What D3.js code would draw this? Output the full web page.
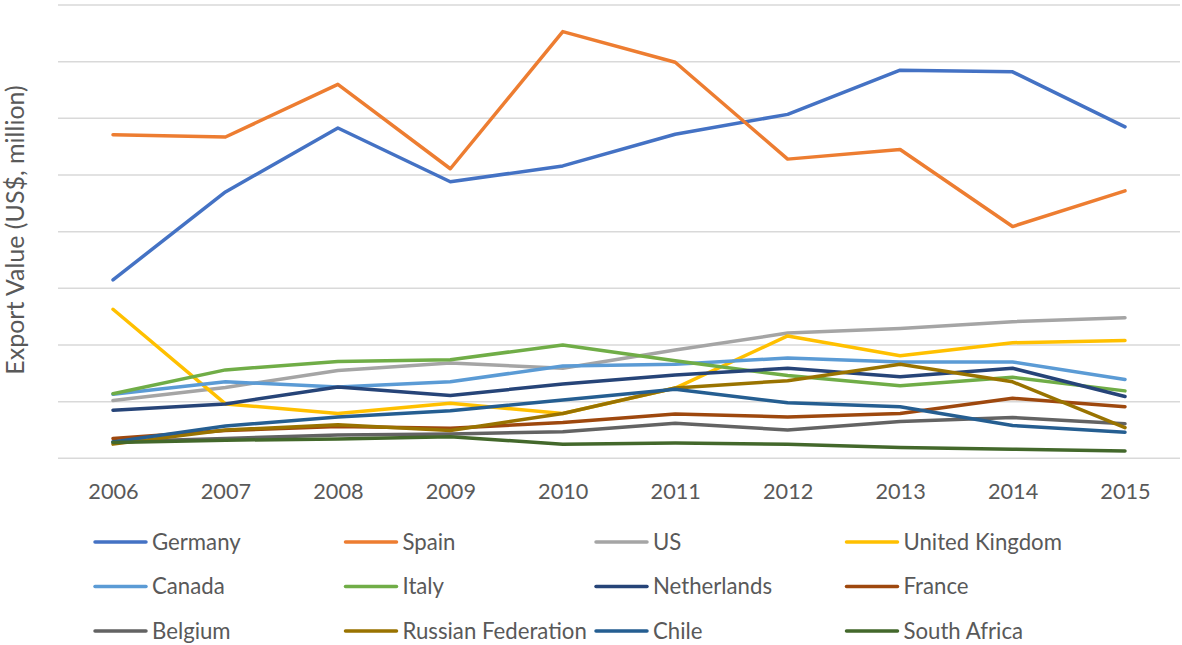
<!DOCTYPE html>
<html><head><meta charset="utf-8">
<script src="https://cdn.jsdelivr.net/npm/d3@7"></script>
<style>
body{margin:0;background:#fff;}
svg{display:block;}
text{font-family:Lato,"Open Sans",sans-serif;fill:#595959;}
</style></head>
<body><svg id="c" width="1182" height="645"></svg>
<script>
const years = ["2006","2007","2008","2009","2010","2011","2012","2013","2014","2015"];
const countries = ["Germany","Spain","US","United Kingdom","Canada","Italy","Netherlands","France","Belgium","Russian Federation","Chile","South Africa"];
const colors = ["#4472C4","#ED7D31","#A5A5A5","#FFC000","#5B9BD5","#70AD47","#264478","#9E480E","#636363","#997300","#255E91","#43682B"];
const germany = [315,470,583,488,516,572,607,685,682,585];
const spain = [571,567,660,511,753,699,528,545,409,472];
const us = [102,125,155,168,159,191,221,229,241,248];
const uk = [263,96,79,97,79,124,216,181,204,208];
const canada = [113,135,126,135,163,166,177,170,170,139];
const italy = [114,156,171,174,200,172,146,128,143,119];
const netherlands = [85,96,126,111,131,147,159,144,159,109];
const france = [35,49,56,53,63,78,73,79,106,91];
const belgium = [29,35,41,43,47,62,50,65,72,61];
const russia = [25,50,59,49,79,124,137,166,135,54];
const chile = [29,57,73,84,103,122,98,91,58,46];
const southAfrica = [28,32,34,38,25,27,25,19,16,13];
const yTicks = [0,100,200,300,400,500,600,700,800];
const seriesValues = [germany,spain,us,uk,canada,italy,netherlands,france,belgium,russia,chile,southAfrica];

const svg = d3.select("#c");
const x = d3.scalePoint().domain(years).range([113,1125]);
const y = d3.scaleLinear().domain([0,800]).range([458.3,5]);

// gridlines
svg.append("g").selectAll("line").data(yTicks).join("line")
  .attr("x1",58).attr("x2",1180)
  .attr("y1",d=>y(d)).attr("y2",d=>y(d))
  .attr("stroke","#d9d9d9").attr("stroke-width",1.5);

// x axis labels
const xa = svg.append("g").attr("transform","translate(0,458.3)")
  .call(d3.axisBottom(x).tickSize(0).tickPadding(0));
xa.select(".domain").remove();
xa.selectAll("text").attr("y",41).attr("dy",0).style("font-size","21.7px")
  .style("font-family",'Lato,"Open Sans",sans-serif').attr("fill","#595959");

// lines
const line = d3.line().x((d,i)=>x(years[i])).y(d=>y(d));
svg.append("g").selectAll("path").data(seriesValues).join("path")
  .attr("d",d=>line(d)).attr("fill","none")
  .attr("stroke",(d,i)=>colors[i]).attr("stroke-width",3.5)
  .attr("stroke-linejoin","round").attr("stroke-linecap","round");

// y title
svg.append("text").attr("transform","translate(24,230) rotate(-90)")
  .attr("text-anchor","middle").style("font-size","25px")
  .text("Export Value (US$, million)");

// legend
const lg = svg.append("g");
countries.forEach((c,i)=>{
  const col=i%4, row=Math.floor(i/4);
  const lx = 95 + col*250.5, ly = 542 + row*44.5;
  lg.append("line").attr("x1",lx).attr("x2",lx+51).attr("y1",ly).attr("y2",ly)
    .attr("stroke",colors[i]).attr("stroke-width",3.5).attr("stroke-linecap","round");
  lg.append("text").attr("x",lx+57).attr("y",ly).attr("dy","0.35em")
    .style("font-size","22.2px").text(c);
});
</script></body></html>
